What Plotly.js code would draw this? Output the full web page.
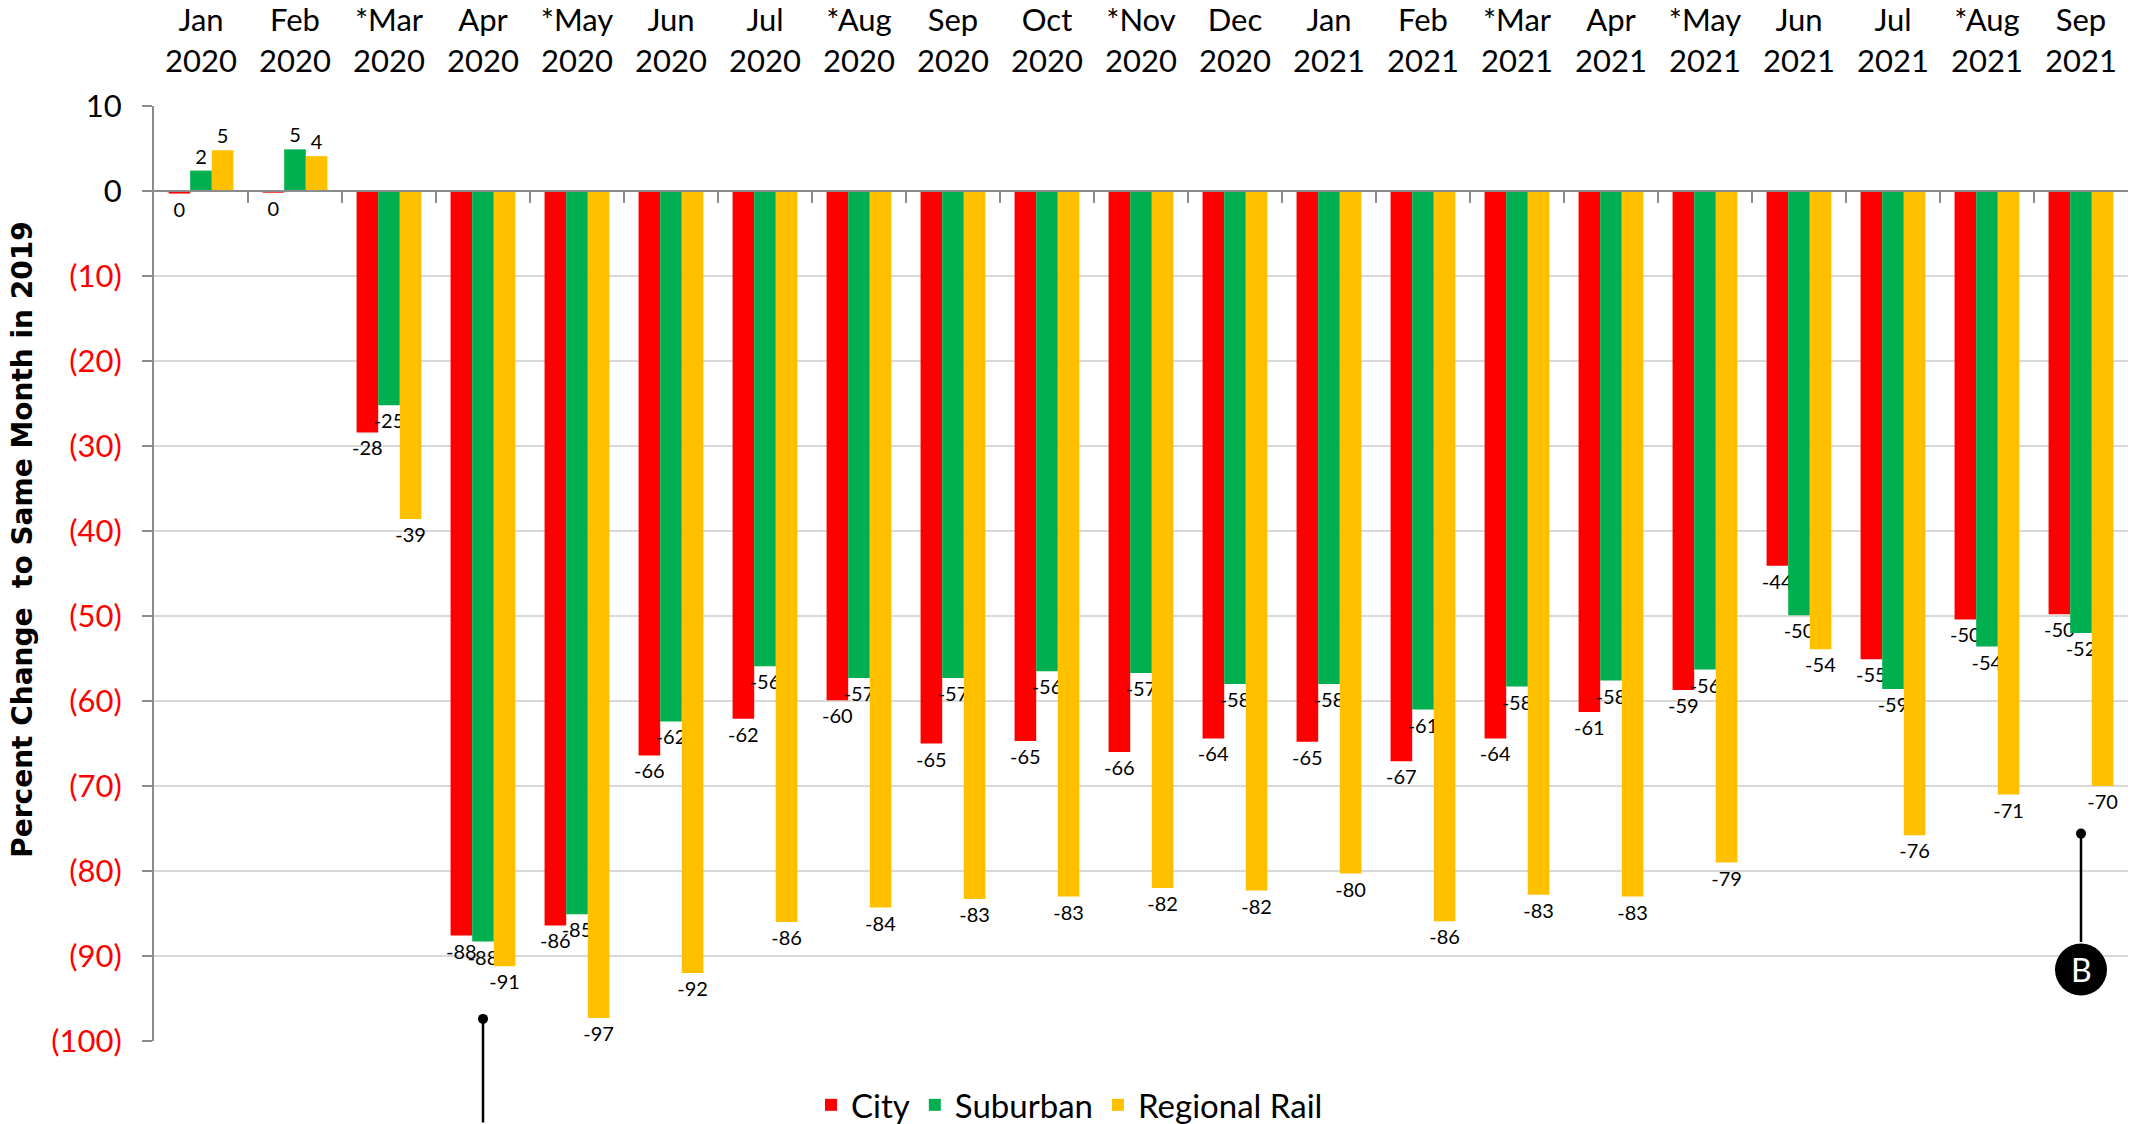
<!DOCTYPE html>
<html>
<head>
<meta charset="utf-8">
<script src="https://cdn.plot.ly/plotly-3.0.1.min.js"></script>
<style>
  html, body { margin: 0; padding: 0; background: #ffffff; }
  #chart { width: 2139px; height: 1124px; }
</style>
</head>
<body>
<div id="chart"></div>
<script>
const categories = ['Jan<br>2020','Feb<br>2020','*Mar<br>2020','Apr<br>2020','*May<br>2020','Jun<br>2020','Jul<br>2020','*Aug<br>2020','Sep<br>2020','Oct<br>2020','*Nov<br>2020','Dec<br>2020','Jan<br>2021','Feb<br>2021','*Mar<br>2021','Apr<br>2021','*May<br>2021','Jun<br>2021','Jul<br>2021','*Aug<br>2021','Sep<br>2021'];
const city = [-0.3,-0.2,-28.4,-87.6,-86.4,-66.4,-62.1,-59.9,-65.0,-64.7,-66.0,-64.4,-64.8,-67.1,-64.4,-61.3,-58.7,-44.1,-55.1,-50.4,-49.8];
const suburban = [2.4,4.9,-25.2,-88.3,-85.1,-62.4,-55.9,-57.3,-57.3,-56.5,-56.7,-58.0,-58.0,-61.0,-58.3,-57.6,-56.3,-49.9,-58.6,-53.6,-52.0];
const regionalRail = [4.8,4.1,-38.6,-91.2,-97.3,-92.0,-86.0,-84.3,-83.3,-83.0,-82.0,-82.3,-80.3,-85.9,-82.8,-83.0,-79.0,-53.9,-75.8,-71.0,-70.0];
const yTickVals = [10,0,-10,-20,-30,-40,-50,-60,-70,-80,-90,-100];
const yTickText = ['10','0','(10)','(20)','(30)','(40)','(50)','(60)','(70)','(80)','(90)','(100)'];
const seriesNames = ['City','Suburban','Regional Rail'];
const seriesColors = ['#ff0000','#00b050','#ffc000'];
const yTitle = 'Percent Change  to Same Month in 2019';
const calloutA = {x: 'Apr<br>2020', y: -97.4};
const calloutB = {x: 'Sep<br>2021', y: -75.6, labelY: -91.6, label: 'B'};

const FONT = 'Lato, "Open Sans", sans-serif';
const labelOf = v => String(Math.round(v));

const traces = [city, suburban, regionalRail].map((vals, i) => ({
  type: 'bar',
  name: seriesNames[i],
  x: categories,
  y: vals,
  marker: {color: seriesColors[i], line: {width: 0}},
  text: vals.map(labelOf),
  textposition: 'outside',
  textangle: 0,
  constraintext: 'none',
  cliponaxis: false,
  textfont: {family: FONT, size: 20, color: '#000000'},
  hoverinfo: 'skip'
}));

const yFrac = (0 - (-100)) / (10 - (-100));

const layout = {
  width: 2139,
  height: 1124,
  paper_bgcolor: '#ffffff',
  plot_bgcolor: '#ffffff',
  margin: {l: 154, r: 11, t: 106, b: 83},
  barmode: 'group',
  bargap: 0.31,
  bargroupgap: 0,
  font: {family: FONT, color: '#000000'},
  showlegend: true,
  legend: {
    orientation: 'h',
    xref: 'container', yref: 'container',
    x: 0.5, xanchor: 'center',
    y: 0.017, yanchor: 'middle',
    font: {family: FONT, size: 33, color: '#000000'},
    itemclick: false
  },
  xaxis: {
    type: 'category',
    side: 'top',
    anchor: 'free',
    position: yFrac,
    range: [-0.5, categories.length - 0.5],
    showline: true,
    linecolor: '#8c8c8c',
    linewidth: 2,
    ticks: 'inside',
    tickson: 'boundaries',
    ticklen: 11,
    tickwidth: 2,
    tickcolor: '#8c8c8c',
    showgrid: false,
    ticklabelstandoff: 106,
    tickfont: {family: FONT, size: 31, color: '#000000'},
    fixedrange: true
  },
  yaxis: {
    range: [-100, 10],
    tickmode: 'array',
    tickvals: yTickVals,
    ticktext: yTickText.map((t, i) => yTickVals[i] < 0 ? '<span style="color:#ff0000">' + t + '</span>' : t),
    tickfont: {family: FONT, size: 31, color: '#000000'},
    ticklabelstandoff: 14,
    showline: true,
    linecolor: '#8c8c8c',
    linewidth: 2,
    ticks: 'outside',
    ticklen: 10,
    tickwidth: 2,
    tickcolor: '#8c8c8c',
    showgrid: true,
    gridcolor: '#d9d9d9',
    gridwidth: 2,
    zeroline: false,
    fixedrange: true
  },
  shapes: [{
    type: 'circle',
    xref: 'x', yref: 'y',
    xsizemode: 'pixel', ysizemode: 'pixel',
    xanchor: calloutB.x, yanchor: calloutB.labelY,
    x0: -26, x1: 26, y0: -26, y1: 26,
    fillcolor: '#000000',
    line: {color: '#000000', width: 0}
  }],
  annotations: [
    {
      text: yTitle, xref: 'paper', yref: 'paper',
      x: -0.0664, y: 0.536, xanchor: 'center', yanchor: 'middle',
      textangle: -90, showarrow: false,
      font: {family: '"DejaVu Sans", sans-serif', size: 28, color: '#000000', weight: 'bold'}
    },
    {
      x: calloutA.x, y: calloutA.y, xref: 'x', yref: 'y',
      text: '', showarrow: true, arrowhead: 6, arrowsize: 1, arrowwidth: 2.5,
      arrowcolor: '#000000', ax: 0, ay: 130
    },
    {
      x: calloutB.x, y: calloutB.y, xref: 'x', yref: 'y',
      text: '', showarrow: true, arrowhead: 6, arrowsize: 1, arrowwidth: 2.5,
      arrowcolor: '#000000', ax: 0, ay: 110
    },
    {
      x: calloutB.x, y: calloutB.labelY, xref: 'x', yref: 'y',
      text: calloutB.label, showarrow: false,
      font: {family: FONT, size: 32, color: '#ffffff'}
    }
  ]
};

Plotly.newPlot('chart', traces, layout, {displayModeBar: false, staticPlot: true});
</script>
</body>
</html>
